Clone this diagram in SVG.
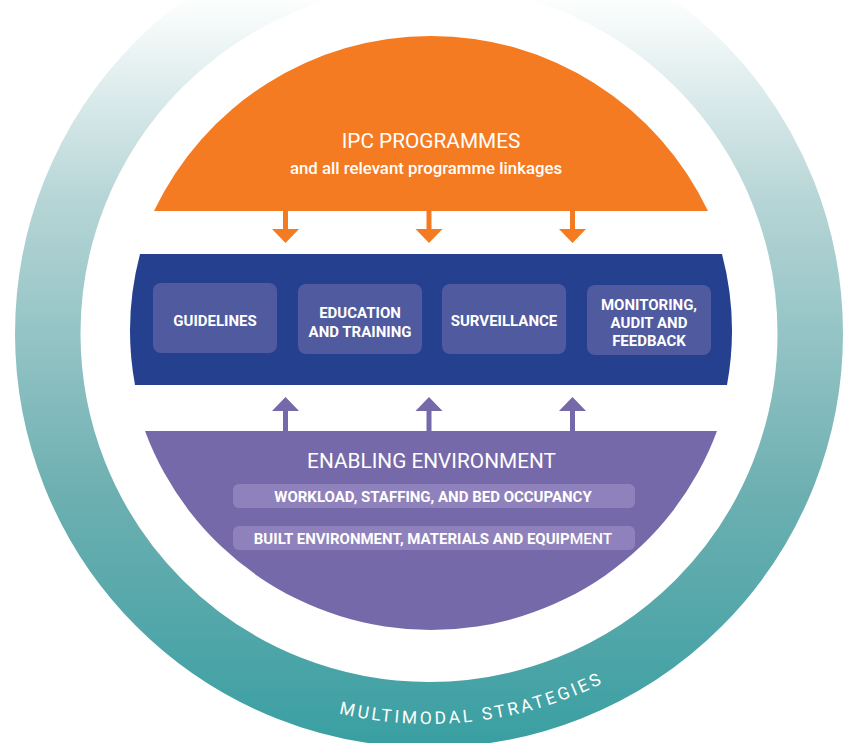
<svg xmlns="http://www.w3.org/2000/svg" width="848" height="743" viewBox="0 0 848 743">
<defs>
<linearGradient id="ringGrad" gradientUnits="userSpaceOnUse" x1="0" y1="0" x2="0" y2="743">
<stop offset="0" stop-color="#fdfefe"/>
<stop offset="0.27" stop-color="#b6d5d6"/>
<stop offset="0.67" stop-color="#6cafb1"/>
<stop offset="1" stop-color="#3a9fa2"/>
</linearGradient>
<path id="ringPath" d="M187.3,639.6 A389,389 0 0,0 735.1,575.2"/>
<style>
text{font-family:Roboto,"Liberation Sans",Arial,sans-serif;fill:#ffffff;text-anchor:middle}
.box{fill:#4f5a9f}
.pill{fill:#8f82bc}
.bt{font-size:15px;font-weight:700}
.pt{font-size:15px;font-weight:700}
.title{font-size:20.8px;font-weight:400}
.orange{fill:#f57b22}
.purple{fill:#7669aa}
</style>
</defs>
<rect width="848" height="743" fill="#ffffff"/>
<g id="ring">
<circle cx="429" cy="333.5" r="381.25" fill="none" stroke="url(#ringGrad)" stroke-width="65.5"/>
<text font-size="17.5" letter-spacing="2.9"><textPath href="#ringPath" startOffset="50%">MULTIMODAL STRATEGIES</textPath></text>
</g>
<g id="ipc-programmes">
<path class="orange" d="M154,211 A306.7,306.7 0 0,1 708,211 Z"/>
<text class="title" x="431" y="148">IPC PROGRAMMES</text>
<text x="426" y="173.5" font-size="16.8" font-weight="500">and all relevant programme linkages</text>
</g>
<g id="core-band">
<path fill="#25408f" d="M140,254 L722,254 A301,301 0 0,1 727,385 L135,385 A301,301 0 0,1 140,254 Z"/>
</g>
<g id="guidelines">
<rect class="box" x="153" y="283" width="124" height="70" rx="8"/>
<text class="bt" x="215" y="325.5">GUIDELINES</text>
</g>
<g id="education">
<rect class="box" x="298" y="284" width="124" height="70" rx="8"/>
<text class="bt" x="360" y="318">EDUCATION</text>
<text class="bt" x="360" y="336.5">AND TRAINING</text>
</g>
<g id="surveillance">
<rect class="box" x="442" y="284" width="124" height="70" rx="8"/>
<text class="bt" x="504" y="325.5">SURVEILLANCE</text>
</g>
<g id="monitoring">
<rect class="box" x="587" y="285" width="124" height="70" rx="8"/>
<text class="bt" x="649" y="309.5">MONITORING,</text>
<text class="bt" x="649" y="328">AUDIT AND</text>
<text class="bt" x="649" y="345.5">FEEDBACK</text>
</g>
<g id="enabling-environment">
<path class="purple" d="M145,431 L717,431 A305,305 0 0,1 145,431 Z"/>
<text class="title" x="431.5" y="467.5">ENABLING ENVIRONMENT</text>
<rect class="pill" x="233" y="484" width="402" height="24" rx="6"/>
<text class="pt" x="433" y="501.5">WORKLOAD, STAFFING, AND BED OCCUPANCY</text>
<rect class="pill" x="233" y="526" width="402" height="24" rx="6"/>
<text class="pt" x="433" y="543.5">BUILT ENVIRONMENT, MATERIALS AND EQUIP<tspan font-weight="500" font-size="15.5">MENT</tspan></text>
</g>
<g id="connectors">
<path class="orange" d="M283,210 h5 v19 h11 l-13.5,14 l-13.5,-14 h11 z"/>
<path class="orange" d="M426.5,210 h5 v19 h11 l-13.5,14 l-13.5,-14 h11 z"/>
<path class="orange" d="M570,210 h5 v19 h11 l-13.5,14 l-13.5,-14 h11 z"/>
<path class="purple" d="M283,432 h5 v-21 h11 l-13.5,-14 l-13.5,14 h11 z"/>
<path class="purple" d="M426.5,432 h5 v-21 h11 l-13.5,-14 l-13.5,14 h11 z"/>
<path class="purple" d="M570,432 h5 v-21 h11 l-13.5,-14 l-13.5,14 h11 z"/>
</g>
</svg>
